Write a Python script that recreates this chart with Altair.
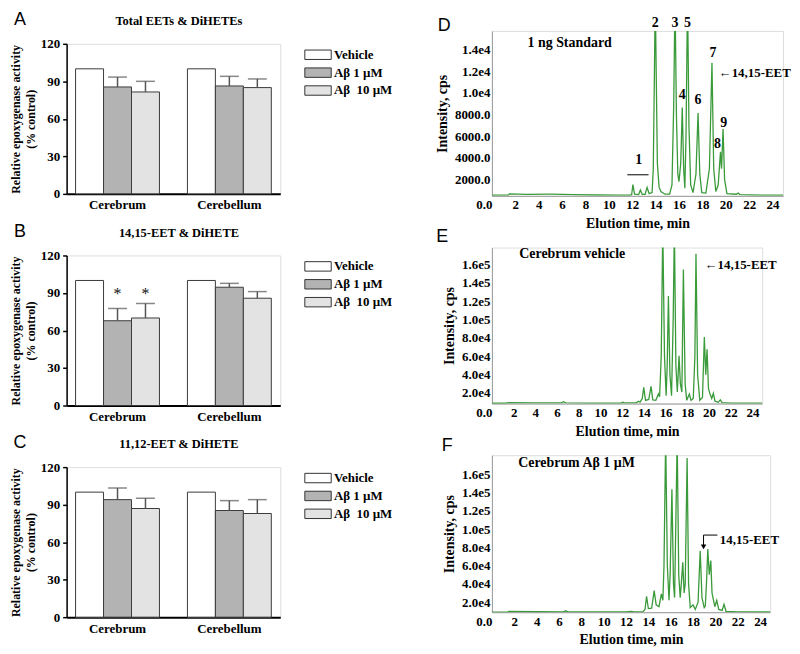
import altair as alt
import pandas as pd

SERIF = "Liberation Serif"
SANS = "Liberation Sans"
GREEN = "#3a9a3a"

# ---------------- bar panels (A, B, C) ----------------
regions = ["Cerebrum", "Cerebellum"]
groups = ["Vehicle", "Aβ 1 µM", "Aβ\u00a0 10 µM"]
bar_fill = ["#ffffff", "#b3b3b3", "#e3e3e3"]
y_ticks_bar = [0, 30, 60, 90, 120]

A_title = "Total EETs & DiHETEs"
A_mean = [100, 85.5, 81.5, 100, 86.3, 85.0]
A_upper = [None, 93.4, 90.0, None, 94.0, 91.9]

B_title = "14,15-EET & DiHETE"
B_mean = [100, 67.8, 70.0, 100, 94.6, 85.8]
B_upper = [None, 77.6, 81.6, None, 97.7, 91.1]
B_star_region = ["Cerebrum", "Cerebrum"]
B_star_group = ["Aβ 1 µM", "Aβ\u00a0 10 µM"]
B_star_y = [89.5, 89.5]

C_title = "11,12-EET & DiHETE"
C_mean = [100, 94.0, 86.9, 100, 85.3, 82.9]
C_upper = [None, 103.3, 95.1, None, 93.2, 94.0]

# ---------------- chromatograms (D, E, F) ----------------
x_ticks_chrom = list(range(0, 25, 2))

D_t = [0, 1.4, 1.5, 3, 5, 7, 9, 11, 11.8, 11.95, 12.06, 12.2, 12.55, 12.7, 12.85, 13.1, 13.27, 13.45,
       13.7, 13.8, 13.9, 13.97, 14.05, 14.15, 14.3, 14.45, 14.8, 15.2, 15.4, 15.55, 15.66, 15.78, 15.9,
       16.0, 16.15, 16.28, 16.4, 16.5, 16.6, 16.73, 16.85, 17.0, 17.2, 17.45, 17.63, 17.78, 17.95, 18.3,
       18.6, 18.82, 18.97, 19.15, 19.35, 19.55, 19.64, 19.77, 19.9, 20.1, 20.9, 21.07, 21.2, 23, 24.9]
D_v = [560, 560, 680, 640, 650, 620, 580, 570, 580, 600, 1530, 650, 620, 1030, 640, 640, 1270, 700,
       800, 3000, 12000, 19000, 12000, 3500, 1300, 900, 650, 650, 1500, 9000, 19000, 8000, 2500,
       1800, 3500, 8650, 3000, 1200, 6000, 19000, 7000, 1500, 800, 2500, 8130, 2500, 800, 750,
       3000, 12760, 3000, 900, 1500, 4550, 3000, 6660, 2000, 700, 650, 750, 620, 560, 560]
D_ydom = [500, 15700]
D_yticks = [2000, 4000, 6000, 8000, 10000, 12000, 14000]
D_lab_t = [12.56, 13.97, 15.66, 16.28, 16.73, 17.63, 18.9, 19.3, 19.83, 6.65]
D_lab_v = [3820, 16450, 16450, 9830, 16450, 9300, 13650, 5280, 7250, 14620]
D_lab = ["1", "2", "3", "4", "5", "6", "7", "8", "9", "1 ng Standard"]
D_left_t = [19.4]
D_left_v = [11800]
D_left = ["←14,15-EET"]
D_rule_t = [11.58]
D_rule_t2 = [13.4]
D_rule_v = [2440]
D_rule_v2 = [2440]

E_t = [0, 1.3, 1.5, 4, 6.4, 6.6, 6.8, 9, 11.9, 12.05, 12.2, 13.3, 13.5, 13.65, 13.85, 13.99, 14.15,
       14.45, 14.66, 14.82, 15.1, 15.34, 15.45, 15.6, 15.74, 15.9, 16.05, 16.15, 16.26, 16.4, 16.55,
       16.7, 16.81, 16.95, 17.08, 17.24, 17.36, 17.5, 17.64, 17.8, 17.95, 18.19, 18.35, 18.55, 18.7,
       18.8, 18.95, 19.15, 19.4, 19.57, 19.7, 19.82, 19.95, 20.09, 20.25, 20.4, 20.55, 20.85, 21.04,
       21.2, 22, 24.9]
E_v = [8800, 8800, 9400, 9300, 9200, 10500, 9300, 9000, 9000, 10000, 9200, 9300, 11000, 10000, 14000,
       26150, 12000, 13000, 27200, 12500, 12000, 18900, 16000, 60000, 200000, 60000, 17000, 50000,
       125600, 40000, 17000, 100000, 200000, 50000, 21000, 60500, 30000, 21000, 154600, 30000, 12000,
       18900, 12000, 14000, 60000, 171600, 40000, 12000, 15000, 81100, 40000, 67700, 25000, 18900,
       14000, 19600, 11000, 9800, 12400, 9500, 9000, 8900]
E_ydom = [8500, 178500]
E_yticks = [20000, 40000, 60000, 80000, 100000, 120000, 140000, 160000]
E_lab_t = [7.4]
E_lab_v = [171900]
E_lab = ["Cerebrum vehicle"]
E_left_t = [19.6]
E_left_v = [159000]
E_left = ["←14,15-EET"]

F_t = [0, 1.4, 1.5, 4, 6.4, 6.6, 6.8, 9, 12, 12.5, 12.7, 13.5, 13.7, 13.84, 14.0, 14.3, 14.52, 14.7,
       14.95, 15.17, 15.3, 15.4, 15.55, 15.7, 15.85, 15.95, 16.11, 16.25, 16.35, 16.45, 16.58, 16.72,
       16.85, 16.95, 17.08, 17.2, 17.3, 17.47, 17.6, 17.75, 18.0, 18.2, 18.45, 18.64, 18.8, 19.0,
       19.1, 19.2, 19.32, 19.45, 19.59, 19.7, 19.82, 19.95, 20.12, 20.3, 20.6, 20.77, 20.95, 22, 24.9]
F_v = [9000, 9000, 9800, 9500, 9400, 10500, 9400, 9300, 9300, 9800, 9300, 9400, 12000, 26500, 13000,
       13500, 32700, 17000, 15000, 29100, 22000, 60000, 200000, 60000, 22000, 50000, 143600, 40000,
       25000, 100000, 200000, 50000, 25000, 40000, 63600, 30000, 40000, 178000, 40000, 14000, 17000,
       12000, 20000, 76400, 25000, 14000, 16000, 40000, 78200, 50000, 65500, 30000, 22700, 15000,
       22000, 12000, 11000, 17600, 10000, 9300, 9200]
F_ydom = [9000, 181000]
F_yticks = [20000, 40000, 60000, 80000, 100000, 120000, 140000, 160000]
F_lab_t = [7.57]
F_lab_v = [172000]
F_lab = ["Cerebrum Aβ 1 µM"]
F_left_t = [20.4]
F_left_v = [88400]
F_left = ["14,15-EET"]
F_rule_t = [18.94, 18.94]
F_rule_t2 = [20.18, 18.94]
F_rule_v = [93500, 93500]
F_rule_v2 = [93500, 81500]
F_arrow_t = [18.94]
F_arrow_v = [80500]


def text_layer(txt, dx, dy, font, size, weight="normal"):
    return alt.Chart(pd.DataFrame({"k": [txt]})).mark_text(
        font=font, fontSize=size, fontWeight=weight, align="center", baseline="middle"
    ).encode(x=alt.value(dx), y=alt.value(dy), text="k:N", color=alt.value("black"))


def bar_panel(letter, title, mean, upper, star_region=None, star_group=None, star_y=None):
    df = pd.DataFrame({
        "region": [r for r in regions for _ in groups],
        "group": groups * len(regions),
        "mean": mean,
        "upper": [float("nan") if u is None else u for u in upper],
    })
    x_axis = alt.Axis(title=None, labelAngle=0, ticks=False, domainColor="black", domainWidth=2,
                      labelFont=SERIF, labelFontWeight="bold", labelFontSize=13,
                      labelColor="black", labelPadding=5, labelOverlap=False)
    x_scale = alt.Scale(domain=regions, paddingInner=0.25, paddingOuter=0.08)
    xo_enc = alt.XOffset("group:N", sort=groups,
                         scale=alt.Scale(domain=groups, paddingInner=0, paddingOuter=0))
    x_enc = alt.X("region:N", sort=regions, scale=x_scale, axis=x_axis)
    y_scale = alt.Scale(domain=[0, 120], nice=False)
    y_axis = alt.Axis(values=y_ticks_bar, tickCount=50, grid=False, domainColor="black", domainWidth=1.5,
                      tickColor="black", tickSize=4, tickWidth=1.5, labelOverlap=False,
                      labelFont=SERIF, labelFontWeight="bold", labelFontSize=13,
                      labelColor="black", labelPadding=3,
                      title=["Relative epoxygenase activity", "(% control)"],
                      titleFont=SERIF, titleFontWeight="bold", titleFontSize=12,
                      titleLineHeight=15, titleColor="black", titlePadding=3)
    bars = alt.Chart(df).mark_bar(stroke="#3a3a3a", strokeWidth=1).encode(
        x=x_enc, xOffset=xo_enc,
        y=alt.Y("mean:Q", scale=y_scale, axis=y_axis),
        color=alt.Color("group:N", sort=groups,
                        scale=alt.Scale(domain=groups, range=bar_fill),
                        legend=alt.Legend(title=None, orient="none", legendX=243, legendY=1,
                                          symbolType="M-1.4,-0.5H1.4V0.5H-1.4Z", symbolSize=360,
                                          symbolStrokeColor="#333333", symbolStrokeWidth=1,
                                          symbolOpacity=1,
                                          labelFont=SERIF, labelFontWeight="bold", labelFontSize=13,
                                          labelColor="black", labelOffset=6, rowPadding=1)),
    )
    err = df.dropna()
    rules = alt.Chart(err).mark_rule(strokeWidth=1.5).encode(
        x=x_enc, xOffset=xo_enc, y=alt.Y("mean:Q", scale=y_scale, axis=y_axis), y2="upper:Q",
        color=alt.value("#555555"))
    caps = alt.Chart(err).mark_tick(thickness=1.5, size=19).encode(
        x=x_enc, xOffset=xo_enc, y=alt.Y("upper:Q", scale=y_scale, axis=y_axis),
        color=alt.value("#555555"))
    layers = [bars, rules, caps]
    if star_group:
        sdf = pd.DataFrame({"region": star_region, "group": star_group, "y": star_y, "s": ["*"] * len(star_y)})
        stars = alt.Chart(sdf).mark_text(font=SERIF, fontSize=16, baseline="middle").encode(
            x=x_enc, xOffset=xo_enc, y=alt.Y("y:Q", scale=y_scale, axis=y_axis), text="s:N",
            color=alt.value("#111111"))
        layers.append(stars)
    layers.append(text_layer(letter, -47, -24, SANS, 18))
    layers.append(text_layer(title, 113, -23, SERIF, 12.5, "bold"))
    return alt.layer(*layers).properties(width=215, height=151)


def chrom_panel(letter, ldx, ldy, t, v, ydom, yticks, label_expr, width, height,
                c_t, c_v, c_lab, l_t, l_v, l_lab, rule=None, arrow=None):
    xs = alt.Scale(domain=[0, 24.9], nice=False, zero=False)
    ys = alt.Scale(domain=ydom, nice=False, zero=False)
    x_axis = alt.Axis(values=x_ticks_chrom, tickCount=50, grid=False, ticks=False, domainColor="#9a9a9a",
                      domainWidth=1, labelFlush=False, labelOverlap=False,
                      labelExpr="datum.value == 0 ? '0.0' : datum.value",
                      labelAlign=alt.condition("datum.value == 0", alt.value("right"), alt.value("center")),
                      labelFont=SERIF, labelFontWeight="bold", labelFontSize=13,
                      labelColor="black", labelPadding=3,
                      title="Elution time, min", titleFont=SERIF, titleFontWeight="bold",
                      titleFontSize=14, titleColor="black", titlePadding=5)
    y_axis = alt.Axis(values=yticks, tickCount=50, grid=False, ticks=False, domainColor="#9a9a9a",
                      domainWidth=1, labelExpr=label_expr, labelFlush=False, labelOverlap=False,
                      labelFont=SERIF, labelFontWeight="bold", labelFontSize=13,
                      labelColor="black", labelPadding=2,
                      title="Intensity, cps", titleFont=SERIF, titleFontWeight="bold",
                      titleFontSize=14, titleColor="black", titlePadding=5)
    xq = alt.X("t:Q", scale=xs, axis=x_axis)
    yq = alt.Y("v:Q", scale=ys, axis=y_axis)
    df = pd.DataFrame({"t": t, "v": v})
    line = alt.Chart(df).mark_line(color=GREEN, strokeWidth=1.3, clip=True).encode(x=xq, y=yq)
    layers = [line]
    cdf = pd.DataFrame({"t": c_t, "v": c_v, "lab": c_lab})
    layers.append(alt.Chart(cdf).mark_text(font=SERIF, fontSize=14, fontWeight="bold",
                                           align="center", baseline="middle").encode(
        x=xq, y=yq, text="lab:N", color=alt.value("black")))
    ldf = pd.DataFrame({"t": l_t, "v": l_v, "lab": l_lab})
    layers.append(alt.Chart(ldf).mark_text(font=SERIF, fontSize=13, fontWeight="bold",
                                           align="left", baseline="middle").encode(
        x=xq, y=yq, text="lab:N", color=alt.value("black")))
    if rule is not None:
        rdf = pd.DataFrame({"t": rule[0], "t2": rule[1], "v": rule[2], "v2": rule[3]})
        layers.append(alt.Chart(rdf).mark_rule(strokeWidth=1).encode(
            x=xq, x2="t2:Q", y=yq, y2="v2:Q", color=alt.value("black")))
    if arrow is not None:
        adf = pd.DataFrame({"t": arrow[0], "v": arrow[1]})
        layers.append(alt.Chart(adf).mark_point(shape="triangle-down", filled=True,
                                                size=30, opacity=1).encode(
            x=xq, y=yq, color=alt.value("black")))
    layers.append(text_layer(letter, ldx, ldy, SANS, 18))
    return alt.layer(*layers).properties(width=width, height=height)


expr_D = "datum.value >= 10000 ? replace(format(datum.value, '.1e'), '+', '') : format(datum.value, '.1f')"
expr_EF = "replace(format(datum.value, '.1e'), '+', '')"

A = bar_panel("A", A_title, A_mean, A_upper)
B = bar_panel("B", B_title, B_mean, B_upper, B_star_region, B_star_group, B_star_y)
C = bar_panel("C", C_title, C_mean, C_upper)

D = chrom_panel("D", -48, -5, D_t, D_v, D_ydom, D_yticks, expr_D, 293, 166,
                D_lab_t, D_lab_v, D_lab, D_left_t, D_left_v, D_left,
                rule=(D_rule_t, D_rule_t2, D_rule_v, D_rule_v2))
E = chrom_panel("E", -50, -11, E_t, E_v, E_ydom, E_yticks, expr_EF, 272, 157,
                E_lab_t, E_lab_v, E_lab, E_left_t, E_left_v, E_left)
F = chrom_panel("F", -45, -9, F_t, F_v, F_ydom, F_yticks, expr_EF, 280, 158,
                F_lab_t, F_lab_v, F_lab, F_left_t, F_left_v, F_left,
                rule=(F_rule_t, F_rule_t2, F_rule_v, F_rule_v2), arrow=(F_arrow_t, F_arrow_v))

spacer = alt.Chart(pd.DataFrame({"k": [""]})).mark_text(opacity=0).encode(
    x=alt.value(0), y=alt.value(0), text="k:N").properties(
    width=215, height=1, view=alt.ViewBackground(stroke=None, strokeWidth=0, strokeOpacity=0))

left_inner = alt.vconcat(A, B, C, spacing=62, bounds="flush").resolve_scale(
    color="independent").resolve_legend(color="independent")
left_col = alt.vconcat(spacer, left_inner, spacing=12, bounds="flush").resolve_scale(
    color="independent").resolve_legend(color="independent")
right_col = alt.vconcat(D, E, F, spacing=52, bounds="flush")

chart = alt.hconcat(left_col, right_col, spacing=428, bounds="flush", padding=0).resolve_scale(
    color="independent").resolve_legend(color="independent").configure_view(
    stroke=None).configure_axis(labelOverlap=False).configure(background="white")

chart.save("out.html", embed_options={"renderer": "svg", "actions": False})
